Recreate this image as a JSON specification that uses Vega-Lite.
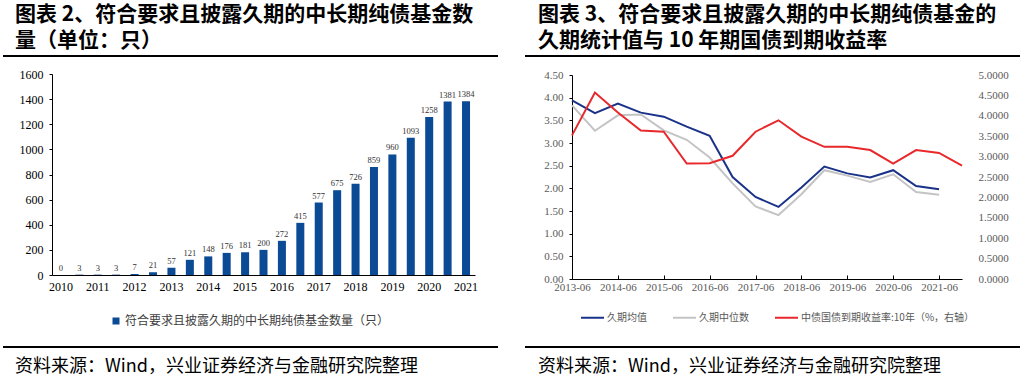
{
  "$schema": "https://vega.github.io/schema/vega-lite/v6.json",
  "padding": {"left": 2, "top": 4, "right": 0, "bottom": 0},
  "background": "white",
  "config": {
    "view": {"stroke": null},
    "font": "Noto Sans CJK SC",
    "title": {"font": "Noto Sans CJK SC", "fontWeight": "bold", "fontSize": 21, "lineHeight": 26, "color": "black", "anchor": "start", "frame": "group"}
  },
  "spacing": 25,
  "resolve": {"scale": {"color": "independent"}, "legend": {"color": "independent"}},
  "hconcat": [
    {
      "spacing": 2,
      "resolve": {"scale": {"color": "independent"}, "legend": {"color": "independent"}},
      "vconcat": [
        {
          "title": {"text": ["图表 2、符合要求且披露久期的中长期纯债基金数", "量（单位：只）"], "dx": -37, "offset": -5},
          "width": 423, "height": 0,
          "data": {"values": [{"start": 0, "end": 1}]},
          "mark": {"type": "rule", "color": "black", "strokeWidth": 2},
          "encoding": {
            "x": {"field": "start", "type": "quantitative", "scale": {"domain": [0, 1], "range": [-49, 446]}, "axis": null},
            "x2": {"field": "end"}
          }
        },
        {
          "width": 423, "height": 201,
          "data": {"values": [
            {"period": "2010-1", "n": 0, "series": "符合要求且披露久期的中长期纯债基金数量（只）"},
            {"period": "2010-2", "n": 3, "series": "符合要求且披露久期的中长期纯债基金数量（只）"},
            {"period": "2011-1", "n": 3, "series": "符合要求且披露久期的中长期纯债基金数量（只）"},
            {"period": "2011-2", "n": 3, "series": "符合要求且披露久期的中长期纯债基金数量（只）"},
            {"period": "2012-1", "n": 7, "series": "符合要求且披露久期的中长期纯债基金数量（只）"},
            {"period": "2012-2", "n": 21, "series": "符合要求且披露久期的中长期纯债基金数量（只）"},
            {"period": "2013-1", "n": 57, "series": "符合要求且披露久期的中长期纯债基金数量（只）"},
            {"period": "2013-2", "n": 121, "series": "符合要求且披露久期的中长期纯债基金数量（只）"},
            {"period": "2014-1", "n": 148, "series": "符合要求且披露久期的中长期纯债基金数量（只）"},
            {"period": "2014-2", "n": 176, "series": "符合要求且披露久期的中长期纯债基金数量（只）"},
            {"period": "2015-1", "n": 181, "series": "符合要求且披露久期的中长期纯债基金数量（只）"},
            {"period": "2015-2", "n": 200, "series": "符合要求且披露久期的中长期纯债基金数量（只）"},
            {"period": "2016-1", "n": 272, "series": "符合要求且披露久期的中长期纯债基金数量（只）"},
            {"period": "2016-2", "n": 415, "series": "符合要求且披露久期的中长期纯债基金数量（只）"},
            {"period": "2017-1", "n": 577, "series": "符合要求且披露久期的中长期纯债基金数量（只）"},
            {"period": "2017-2", "n": 675, "series": "符合要求且披露久期的中长期纯债基金数量（只）"},
            {"period": "2018-1", "n": 726, "series": "符合要求且披露久期的中长期纯债基金数量（只）"},
            {"period": "2018-2", "n": 859, "series": "符合要求且披露久期的中长期纯债基金数量（只）"},
            {"period": "2019-1", "n": 960, "series": "符合要求且披露久期的中长期纯债基金数量（只）"},
            {"period": "2019-2", "n": 1093, "series": "符合要求且披露久期的中长期纯债基金数量（只）"},
            {"period": "2020-1", "n": 1258, "series": "符合要求且披露久期的中长期纯债基金数量（只）"},
            {"period": "2020-2", "n": 1381, "series": "符合要求且披露久期的中长期纯债基金数量（只）"},
            {"period": "2021-1", "n": 1384, "series": "符合要求且披露久期的中长期纯债基金数量（只）"}
          ]},
          "encoding": {
            "x": {
              "field": "period", "type": "ordinal", "sort": null,
              "scale": {"paddingInner": 0.565, "paddingOuter": 0.27},
              "axis": {
                "title": null,
                "values": ["2010-1", "2011-1", "2012-1", "2013-1", "2014-1", "2015-1", "2016-1", "2017-1", "2018-1", "2019-1", "2020-1", "2021-1"],
                "labelExpr": "slice(datum.value, 0, 4)",
                "labelAngle": 0, "ticks": false, "domainColor": "black", "domainWidth": 1,
                "labelFont": "Liberation Serif", "labelFontSize": 12, "labelColor": "black", "labelPadding": 6
              }
            },
            "y": {
              "field": "n", "type": "quantitative",
              "scale": {"domain": [0, 1600]},
              "axis": {
                "title": null, "grid": false, "values": [0, 200, 400, 600, 800, 1000, 1200, 1400, 1600], "format": "d",
                "domainColor": "black", "tickColor": "black", "tickSize": 3, "labelPadding": 6,
                "labelFont": "Liberation Serif", "labelFontSize": 12, "labelColor": "black"
              }
            }
          },
          "layer": [
            {
              "mark": {"type": "bar"},
              "encoding": {
                "color": {
                  "field": "series", "type": "nominal",
                  "scale": {"range": ["#0B4A94"]},
                  "legend": {
                    "title": null, "orient": "none", "direction": "horizontal",
                    "legendX": 50, "legendY": 233, "padding": 8,
                    "symbolType": "square", "symbolSize": 49, "symbolStrokeWidth": 0,
                    "labelFont": "Noto Sans CJK SC", "labelFontSize": 12, "labelColor": "#404040",
                    "labelOffset": 3, "labelLimit": 500
                  }
                }
              }
            },
            {
              "mark": {"type": "text", "dy": -7, "font": "Liberation Serif", "fontSize": 8.5, "color": "#333333"},
              "encoding": {"text": {"field": "n", "type": "quantitative"}}
            }
          ]
        },
        {
          "title": {"text": "资料来源：Wind，兴业证券经济与金融研究院整理", "orient": "bottom", "fontWeight": "normal", "fontSize": 18, "dx": -37, "offset": 1},
          "width": 423, "height": 0,
          "data": {"values": [{"start": 0, "end": 1}]},
          "mark": {"type": "rule", "color": "black", "strokeWidth": 2},
          "encoding": {
            "x": {"field": "start", "type": "quantitative", "scale": {"domain": [0, 1], "range": [-49, 446]}, "axis": null},
            "x2": {"field": "end"}
          }
        }
      ]
    },
    {
      "spacing": 3,
      "resolve": {"scale": {"color": "independent"}, "legend": {"color": "independent"}},
      "vconcat": [
        {
          "title": {"text": ["图表 3、符合要求且披露久期的中长期纯债基金的", "久期统计值与 10 年期国债到期收益率"], "dx": -34, "offset": -5},
          "width": 390, "height": 0,
          "data": {"values": [{"start": 0, "end": 1}]},
          "mark": {"type": "rule", "color": "black", "strokeWidth": 2},
          "encoding": {
            "x": {"field": "start", "type": "quantitative", "scale": {"domain": [0, 1], "range": [-47, 448]}, "axis": null},
            "x2": {"field": "end"}
          }
        },
        {
          "width": 390, "height": 204,
          "data": {"values": [
            {"date": "2013-06", "久期均值": 3.94, "久期中位数": 3.83, "yield": 3.52},
            {"date": "2013-12", "久期均值": 3.66, "久期中位数": 3.27, "yield": 4.57},
            {"date": "2014-06", "久期均值": 3.87, "久期中位数": 3.61, "yield": 4.08},
            {"date": "2014-12", "久期均值": 3.67, "久期中位数": 3.63, "yield": 3.64},
            {"date": "2015-06", "久期均值": 3.58, "久期中位数": 3.28, "yield": 3.61},
            {"date": "2015-12", "久期均值": 3.36, "久期中位数": 3.07, "yield": 2.83},
            {"date": "2016-06", "久期均值": 3.16, "久期中位数": 2.68, "yield": 2.84},
            {"date": "2016-12", "久期均值": 2.25, "久期中位数": 2.11, "yield": 3.02},
            {"date": "2017-06", "久期均值": 1.81, "久期中位数": 1.60, "yield": 3.61},
            {"date": "2017-12", "久期均值": 1.59, "久期中位数": 1.41, "yield": 3.89},
            {"date": "2018-06", "久期均值": 2.02, "久期中位数": 1.87, "yield": 3.49},
            {"date": "2018-12", "久期均值": 2.48, "久期中位数": 2.40, "yield": 3.24},
            {"date": "2019-06", "久期均值": 2.33, "久期中位数": 2.28, "yield": 3.24},
            {"date": "2019-12", "久期均值": 2.24, "久期中位数": 2.14, "yield": 3.16},
            {"date": "2020-06", "久期均值": 2.40, "久期中位数": 2.31, "yield": 2.83},
            {"date": "2020-12", "久期均值": 2.05, "久期中位数": 1.92, "yield": 3.16},
            {"date": "2021-06", "久期均值": 1.98, "久期中位数": 1.86, "yield": 3.09},
            {"date": "2021-12", "yield": 2.78}
          ]},
          "encoding": {
            "x": {
              "field": "date", "type": "ordinal", "sort": null,
              "scale": {"type": "point", "padding": 0},
              "axis": {
                "title": null,
                "values": ["2013-06", "2014-06", "2015-06", "2016-06", "2017-06", "2018-06", "2019-06", "2020-06", "2021-06"],
                "labelAngle": 0, "domainColor": "black", "tickColor": "black", "tickSize": -4, "labelPadding": 6,
                "labelFont": "Liberation Serif", "labelFontSize": 11, "labelColor": "#595959"
              }
            }
          },
          "layer": [
            {
              "transform": [{"fold": ["久期均值", "久期中位数"], "as": ["series", "value"]}],
              "mark": {"type": "line", "strokeWidth": 2},
              "encoding": {
                "y": {
                  "field": "value", "type": "quantitative",
                  "scale": {"domain": [0, 4.5]},
                  "axis": {
                    "title": null, "grid": false, "orient": "left",
                    "values": [0, 0.5, 1, 1.5, 2, 2.5, 3, 3.5, 4, 4.5], "format": ".2f",
                    "domainColor": "black", "tickColor": "black", "tickSize": 3, "labelPadding": 6,
                    "labelFont": "Liberation Serif", "labelFontSize": 11, "labelColor": "#595959"
                  }
                },
                "color": {
                  "field": "series", "type": "nominal",
                  "scale": {"domain": ["久期均值", "久期中位数", "中债国债到期收益率:10年（%，右轴）"], "range": ["#1A3288", "#C4C4C4", "#E8282B"]},
                  "legend": {
                    "title": null, "orient": "none", "direction": "horizontal",
                    "legendX": -3, "legendY": 219, "padding": 11,
                    "symbolType": "stroke", "symbolSize": 529, "symbolStrokeWidth": 2,
                    "labelFont": "Noto Sans CJK SC", "labelFontSize": 10, "labelColor": "#595959",
                    "labelOffset": 2, "columnPadding": 22, "labelLimit": 500
                  }
                }
              }
            },
            {
              "mark": {"type": "line", "strokeWidth": 2},
              "encoding": {
                "y": {
                  "field": "yield", "type": "quantitative",
                  "scale": {"domain": [0, 5]},
                  "axis": {
                    "title": null, "grid": false, "orient": "right",
                    "values": [0, 0.5, 1, 1.5, 2, 2.5, 3, 3.5, 4, 4.5, 5], "format": ".4f",
                    "domain": false, "ticks": false, "labelPadding": 16,
                    "labelFont": "Liberation Serif", "labelFontSize": 11, "labelColor": "#595959"
                  }
                },
                "color": {"datum": "中债国债到期收益率:10年（%，右轴）", "type": "nominal"}
              }
            }
          ],
          "resolve": {"scale": {"y": "independent"}}
        },
        {
          "title": {"text": "资料来源：Wind，兴业证券经济与金融研究院整理", "orient": "bottom", "fontWeight": "normal", "fontSize": 18, "dx": -34, "offset": 1},
          "width": 390, "height": 0,
          "data": {"values": [{"start": 0, "end": 1}]},
          "mark": {"type": "rule", "color": "black", "strokeWidth": 2},
          "encoding": {
            "x": {"field": "start", "type": "quantitative", "scale": {"domain": [0, 1], "range": [-47, 448]}, "axis": null},
            "x2": {"field": "end"}
          }
        }
      ]
    }
  ]
}
